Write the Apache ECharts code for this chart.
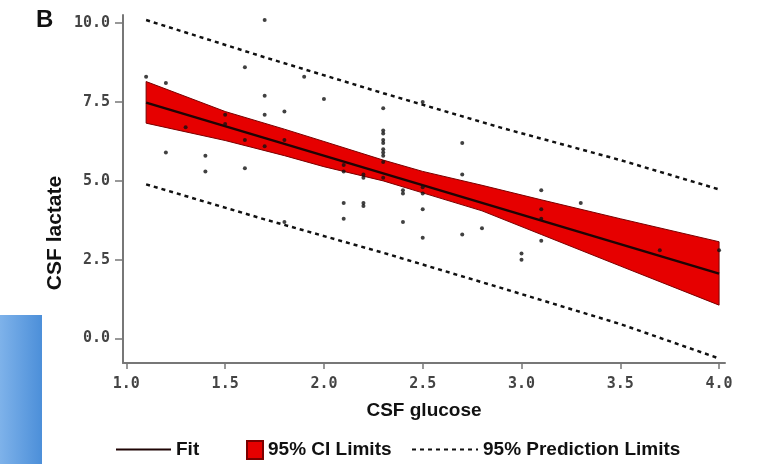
<!DOCTYPE html>
<html>
<head>
    <meta charset="utf-8">
    <title>CSF lactate vs CSF glucose</title>
    <script src="https://cdn.jsdelivr.net/npm/echarts@6/dist/echarts.min.js"></script>
    <style>
        html, body { margin: 0; padding: 0; background: #fff; }
        #main { width: 759px; height: 464px; }
    </style>
</head>
<body>
<div id="main"></div>
<script type="text/javascript">
    // observed points [glucose, lactate]
    var points = [
        [1.1, 8.3], [1.2, 8.1], [1.2, 5.9], [1.3, 6.7], [1.4, 5.8], [1.4, 5.3],
        [1.5, 7.1], [1.5, 6.8], [1.6, 8.6], [1.6, 6.3], [1.6, 5.4],
        [1.7, 10.1], [1.7, 7.7], [1.7, 7.1], [1.7, 6.1],
        [1.8, 7.2], [1.8, 6.3], [1.8, 3.7], [1.9, 8.3], [2.0, 7.6],
        [2.1, 5.5], [2.1, 5.3], [2.1, 4.3], [2.1, 3.8],
        [2.2, 5.2], [2.2, 5.1], [2.2, 4.3], [2.2, 4.2],
        [2.3, 7.3], [2.3, 6.6], [2.3, 6.5], [2.3, 6.3], [2.3, 6.2], [2.3, 6.0],
        [2.3, 5.9], [2.3, 5.8], [2.3, 5.6], [2.3, 5.1],
        [2.4, 4.7], [2.4, 4.6], [2.4, 3.7],
        [2.5, 7.5], [2.5, 4.8], [2.5, 4.6], [2.5, 4.1], [2.5, 3.2],
        [2.7, 6.2], [2.7, 5.2], [2.7, 3.3], [2.8, 3.5],
        [3.0, 2.7], [3.0, 2.5],
        [3.1, 4.7], [3.1, 4.1], [3.1, 3.8], [3.1, 3.1],
        [3.3, 4.3], [3.7, 2.8], [4.0, 2.8]
    ];

    // regression fit
    var fitX = [1.1, 4.0];
    var fitY = [7.48, 2.06];

    // 95% confidence band
    var ciX = [1.1, 1.5, 1.8, 2.0, 2.3, 2.5, 2.8, 3.1, 3.5, 4.0];
    var ciUpper = [8.15, 7.20, 6.64, 6.25, 5.66, 5.30, 4.86, 4.40, 3.80, 3.07];
    var ciLower = [6.83, 6.28, 5.80, 5.45, 5.00, 4.62, 4.05, 3.30, 2.30, 1.06];

    // 95% prediction limits
    var piX = [1.1, 1.7, 2.3, 2.9, 3.5, 4.0];
    var piUpper = [10.10, 8.92, 7.78, 6.68, 5.66, 4.73];
    var piLower = [4.89, 3.78, 2.72, 1.60, 0.46, -0.63];

    // tick labels
    var xTicks = [1.0, 1.5, 2.0, 2.5, 3.0, 3.5, 4.0];
    var yTicks = [0, 2.5, 5.0, 7.5, 10.0];

    function pairs(xs, ys) {
        var out = [];
        for (var i = 0; i < xs.length; i++) out.push([xs[i], ys[i]]);
        return out;
    }

    var myChart = echarts.init(document.getElementById('main'));

    var legendFont = {fontFamily: 'Liberation Sans', fontWeight: 'bold', fontSize: 19, color: '#111'};
    var hideSymbol = {opacity: 0};

    myChart.setOption({
        animation: false,
        backgroundColor: '#fff',
        grid: {left: 123, right: 34, top: 15, height: 348},
        xAxis: {
            type: 'value',
            min: 0.983,
            max: 4.03,
            name: 'CSF glucose',
            nameLocation: 'middle',
            nameGap: 38,
            nameTextStyle: {fontFamily: 'Liberation Sans', fontWeight: 'bold', fontSize: 19, color: '#111'},
            splitLine: {show: false},
            axisLine: {onZero: false, lineStyle: {color: '#777', width: 2}},
            axisTick: {customValues: xTicks, length: 6, lineStyle: {color: '#777', width: 1.5}},
            axisLabel: {
                customValues: xTicks, margin: 14,
                formatter: function (v) { return v.toFixed(1); },
                fontFamily: 'DejaVu Sans Mono', fontWeight: 'bold', fontSize: 15, color: '#444'
            }
        },
        yAxis: {
            type: 'value',
            min: -0.775,
            max: 10.26,
            splitLine: {show: false},
            axisLine: {onZero: false, lineStyle: {color: '#777', width: 2}},
            axisTick: {customValues: yTicks, length: 8, lineStyle: {color: '#777', width: 1.5}},
            axisLabel: {
                customValues: yTicks, margin: 13,
                formatter: function (v) { return v.toFixed(1); },
                fontFamily: 'DejaVu Sans Mono', fontWeight: 'bold', fontSize: 15, color: '#444'
            }
        },
        legend: [
            {
                data: [{name: 'Fit', itemStyle: hideSymbol}], left: 110, top: 435,
                itemWidth: 55, itemHeight: 14, textStyle: legendFont, selectedMode: false
            },
            {
                data: [{name: '95% CI Limits', icon: 'rect'}], left: 241, top: 435,
                itemWidth: 16, itemHeight: 18, textStyle: legendFont, selectedMode: false
            },
            {
                data: [{name: '95% Prediction Limits', itemStyle: hideSymbol}], left: 406, top: 435,
                itemWidth: 66, itemHeight: 14, textStyle: legendFont, selectedMode: false
            }
        ],
        graphic: [
            {
                type: 'rect', left: 0, top: 315, z: 0,
                shape: {width: 42, height: 149},
                style: {
                    fill: new echarts.graphic.LinearGradient(0, 0, 1, 0, [
                        {offset: 0, color: '#7eb2ea'},
                        {offset: 1, color: '#4c8fd9'}
                    ])
                }
            },
            {
                type: 'text', left: 36, top: 8,
                style: {text: 'B', fontFamily: 'Liberation Sans', fontWeight: 'bold', fontSize: 24, fill: '#111'}
            },
            {
                type: 'text', x: 55, y: 233, rotation: Math.PI / 2,
                style: {
                    text: 'CSF lactate', align: 'center', verticalAlign: 'middle',
                    fontFamily: 'Liberation Sans', fontWeight: 'bold', fontSize: 21, fill: '#111'
                }
            }
        ],
        series: [
            {
                name: '95% CI Limits',
                type: 'custom',
                itemStyle: {color: '#e60000', borderColor: '#7a0000', borderWidth: 1},
                data: [[ciX[0], ciUpper[0]]],
                encode: {x: 0, y: 1},
                z: 1,
                renderItem: function (params, api) {
                    var pts = [];
                    for (var i = 0; i < ciX.length; i++) pts.push(api.coord([ciX[i], ciUpper[i]]));
                    for (var j = ciX.length - 1; j >= 0; j--) pts.push(api.coord([ciX[j], ciLower[j]]));
                    return {
                        type: 'polygon',
                        shape: {points: pts},
                        style: {fill: '#e60000', stroke: '#7a0000', lineWidth: 1}
                    };
                }
            },
            {
                name: 'Fit', type: 'line', data: pairs(fitX, fitY), symbol: 'none', z: 3,
                lineStyle: {color: '#1e0404', width: 2.5}, itemStyle: {color: '#1e0404'}
            },
            {
                name: '95% Prediction Limits', type: 'line', data: pairs(piX, piUpper), symbol: 'none', z: 3,
                lineStyle: {color: '#111', width: 2.5, type: [4, 4]}, itemStyle: {color: '#111'}
            },
            {
                name: '95% Prediction Limits', type: 'line', data: pairs(piX, piLower), symbol: 'none', z: 3,
                lineStyle: {color: '#111', width: 2.5, type: [4, 4]}, itemStyle: {color: '#111'}
            },
            {
                name: 'Observed', type: 'scatter', data: points, symbolSize: 4, z: 4,
                itemStyle: {color: '#111'}
            }
        ]
    });
</script>
</body>
</html>
